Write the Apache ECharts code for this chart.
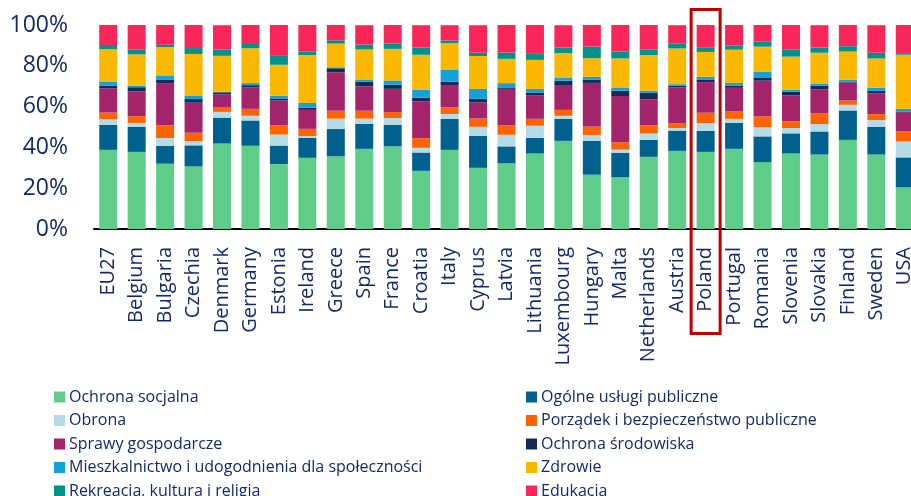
<!DOCTYPE html>
<html>
<head>
<meta charset="utf-8">
<script src="https://cdn.jsdelivr.net/npm/echarts@6/dist/echarts.min.js"></script>
<style>
  html, body { margin: 0; padding: 0; background: #fff; }
  #main { width: 911px; height: 496px; }
</style>
</head>
<body>
<div id="main"></div>
<script>
// kraje
var categories = ['EU27','Belgium','Bulgaria','Czechia','Denmark','Germany','Estonia','Ireland','Greece','Spain','France','Croatia','Italy','Cyprus','Latvia','Lithuania','Luxembourg','Hungary','Malta','Netherlands','Austria','Poland','Portugal','Romania','Slovenia','Slovakia','Finland','Sweden','USA'];

// udzialy wydatkow (%), od dolu stosu
var ochronaSocjalna = [38.8,37.8,32.0,30.7,41.9,40.8,31.8,34.9,35.6,39.3,40.5,28.5,38.8,30.0,32.3,37.0,43.2,26.6,25.3,35.4,38.3,37.8,39.3,32.8,37.0,36.5,43.7,36.5,20.4];
var ogolneUslugi   = [12.2,12.2,8.8,10.3,12.7,12.4,9.1,9.8,13.4,12.2,10.6,9.0,15.2,15.7,8.2,7.7,10.8,16.6,12.1,8.3,9.9,10.3,12.7,12.6,9.9,11.3,14.4,13.5,14.7];
var obrona         = [2.8,2.0,3.8,2.1,2.8,2.3,5.4,0.8,5.1,2.6,3.3,2.3,2.4,4.4,5.7,5.9,1.5,2.9,1.5,3.1,1.3,3.8,2.0,4.6,2.6,3.6,2.8,3.4,7.8];
var porzadek       = [3.3,3.3,6.2,4.1,2.1,3.4,4.6,3.6,3.9,3.9,2.9,4.7,3.3,4.1,4.7,3.4,2.9,4.1,3.6,4.1,2.4,5.1,3.8,5.2,3.3,5.4,2.1,2.9,5.1];
var sprawyGosp     = [11.9,12.1,20.7,14.7,6.5,10.6,12.1,9.3,18.8,11.9,11.4,18.1,10.9,7.8,17.8,11.6,12.2,21.4,22.7,12.7,17.5,15.0,11.4,17.5,12.7,11.7,8.8,10.1,9.3];
var srodowisko     = [1.3,2.1,1.8,1.8,1.0,1.0,1.0,1.1,2.0,2.3,2.0,1.8,1.6,1.8,0.7,1.3,2.1,1.5,2.6,3.1,0.8,1.3,1.1,1.6,1.8,1.8,0.5,1.3,0.2];
var mieszkalnictwo = [2.0,0.8,2.0,1.5,0.3,1.0,1.3,2.3,0.5,1.1,2.1,3.9,6.0,4.9,2.1,1.8,1.3,1.5,1.6,1.1,0.8,1.3,1.3,2.9,1.0,0.8,0.8,1.5,1.5];
var zdrowie        = [15.8,15.3,13.9,20.6,17.6,17.1,15.2,23.5,11.6,14.7,15.5,17.1,12.9,16.1,11.9,14.2,12.2,9.1,14.2,17.5,17.5,12.2,16.3,12.2,16.2,15.3,13.9,14.4,26.4];
var rekreacja      = [2.1,2.3,1.1,2.9,3.1,2.1,4.7,1.6,1.6,2.4,2.6,3.6,1.3,1.6,3.1,3.3,2.8,5.7,3.4,2.6,2.3,2.3,2.1,2.4,3.4,2.6,2.6,2.8,0.8];
var edukacja       = [9.8,12.1,9.8,11.4,11.9,9.3,14.8,13.1,7.7,9.5,9.1,10.9,7.5,13.5,13.5,13.9,10.9,10.6,13.0,12.1,9.1,10.9,10.0,8.2,12.1,10.9,10.4,13.5,13.9];

var seriesNames = ['Ochrona socjalna','Ogólne usługi publiczne','Obrona','Porządek i bezpieczeństwo publiczne','Sprawy gospodarcze','Ochrona środowiska','Mieszkalnictwo i udogodnienia dla społeczności','Zdrowie','Rekreacja, kultura i religia','Edukacja'];
var seriesData = [ochronaSocjalna, ogolneUslugi, obrona, porzadek, sprawyGosp, srodowisko, mieszkalnictwo, zdrowie, rekreacja, edukacja];
var colors = ['#5fcc8a','#00618f','#b4dbe6','#fd6400','#a3246b','#152a55','#14a0d8','#fbb800','#00918a','#f9265a'];
var yTicks = [0, 20, 40, 60, 80, 100];

var highlight = 'Poland';
var textColor = '#14296a';
var font = 'Open Sans';

var chart = echarts.init(document.getElementById('main'));

var series = [];
for (var i = 0; i < seriesNames.length; i++) {
  series.push({
    name: seriesNames[i],
    type: 'bar',
    stack: 'total',
    barWidth: 18,
    data: seriesData[i],
    itemStyle: { color: colors[i] }
  });
}

//legenda w dwoch kolumnach
var leftNames = [], rightNames = [];
seriesNames.forEach(function(n, i){
  (i % 2 === 0 ? leftNames : rightNames).push(n);
});
var legendBase = {
  orient: 'vertical',
  top: 389,
  height: 140,
  icon: 'rect',
  itemWidth: 11,
  itemHeight: 11,
  itemGap: 7.5,
  padding: 0,
  textStyle: { color: textColor, fontFamily: font, fontSize: 16, lineHeight: 15, padding: [0,0,0,-1] }
};

chart.setOption({
  animation: false,
  color: colors,
  // wykres wychodzi poza prawa krawedz (USA uciete)
  grid: { left: 94, width: 825, top: 25, bottom: 267, outerBoundsMode: 'none' },
  legend: [
    Object.assign({}, legendBase, { left: 54, data: leftNames }),
    Object.assign({}, legendBase, { left: 526, data: rightNames })
  ],
  xAxis: {
    type: 'category',
    data: categories,
    axisTick: { show: false },
    axisLine: { lineStyle: { color: '#000', width: 2 } },
    axisLabel: {
      rotate: 90,
      margin: 18,
      interval: 0,
      color: textColor,
      fontFamily: font,
      fontSize: 20
    }
  },
  yAxis: {
    type: 'value',
    min: yTicks[0],
    max: yTicks[yTicks.length - 1],
    interval: yTicks[1] - yTicks[0],
    splitLine: { show: false },
    axisLine: { show: false },
    axisTick: { show: false },
    axisLabel: {
      margin: 26,
      color: textColor,
      fontFamily: font,
      fontSize: 23,
      formatter: '{value}%'
    }
  },
  series: series
});

//ramka wokol Polski
var px = chart.convertToPixel({ xAxisIndex: 0 }, highlight);
var py0 = chart.convertToPixel({ yAxisIndex: 0 }, 100);
chart.setOption({
  graphic: [{
    type: 'rect',
    z: 100,
    shape: { x: px - 14.5, y: py0 - 15.5, width: 29, height: 324 },
    style: { fill: 'none', stroke: '#c00000', lineWidth: 3 }
  }]
});
</script>
</body>
</html>
